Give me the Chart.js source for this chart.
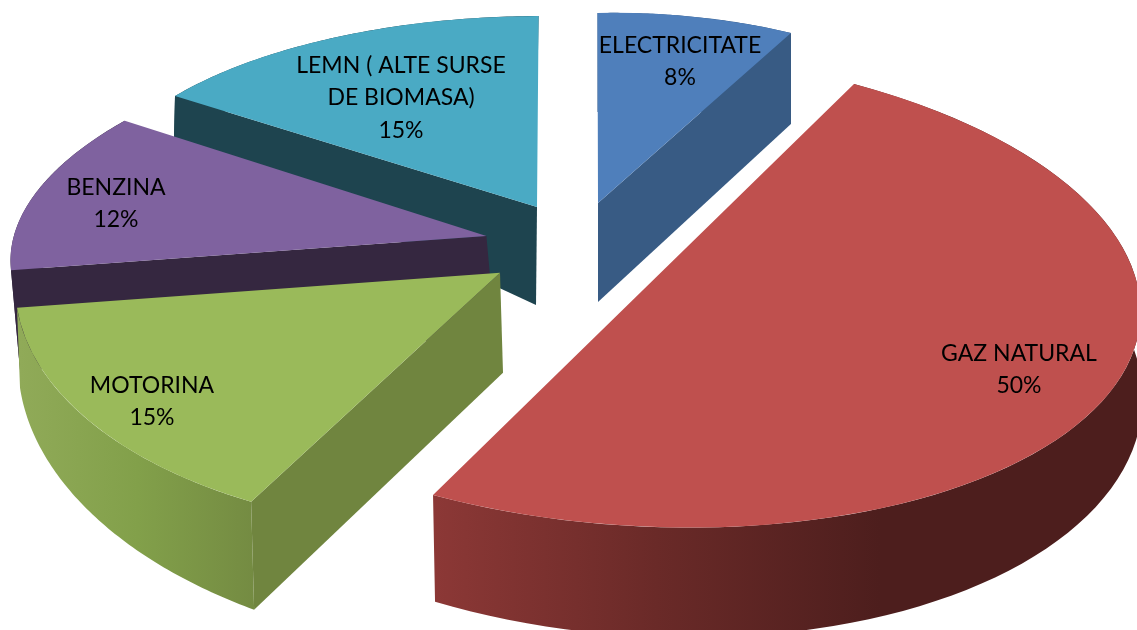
<!DOCTYPE html>
<html>
<head>
<meta charset="utf-8">
<title>Consum energie</title>
<script src="https://cdn.jsdelivr.net/npm/chart.js@4"></script>
<style>
  html, body { margin: 0; padding: 0; background: #fff; overflow: hidden; }
  #pie { display: block; }
</style>
</head>
<body>
<canvas id="pie" width="1137" height="630"></canvas>
<script>
const categories = ['ELECTRICITATE', 'GAZ NATURAL', 'MOTORINA', 'BENZINA', 'LEMN ( ALTE SURSE\nDE BIOMASA)'];
const shares = [8, 50, 15, 12, 15];

const topColors = ['#4f7fbb', '#bf504e', '#9aba5a', '#7f629f', '#4aaac4'];
const wallColors = ['#385b84', '#4d1e1d', '#70853f', '#352740', '#1e444f'];

// the pie is drawn exploded and tilted: each slice gets its own flat projection
// x,y = tip, a = where "3 o'clock" lands, b = where "12 o'clock" lands (relative to tip)
// d = wall height at tip, da/db = how the height changes toward a/b, dx = bottom shift
const sliceViews = [
  { x: 598,   y: 203,   ax: 401.4, ay: -7.3, bx: -0.5,  by: -190,   d: 99,  da: -16.6, db: 0,     dx: 0 },
  { x: 643.5, y: 289.5, ax: 496,   ay: 6.5,  bx: -32.5, by: -238,   d: 85,  da: 0,     db: -25,   dx: 2 },
  { x: 500,   y: 272.7, ax: 484.6, ay: -2.6, bx: 17.6,  by: -260,   d: 100, da: 22.9,  db: -21.7, dx: 3 },
  { x: 486.4, y: 236,   ax: 474.4, ay: -8.2, bx: 37.7,  by: -207.5, d: 100, da: 10,    db: -79.7, dx: 9 },
  { x: 537,   y: 207,   ax: 448.6, ay: -1.6, bx: 1.6,   by: -191,   d: 98,  da: 42.9,  db: -38,   dx: -1 }
];
const drawOrder = [4, 0, 3, 2, 1];

// outer wall shading, left to right
const wallShades = {
  1: { from: 433, to: 880, stops: ['#8c3836', '#6a2a28', '#4d1e1d'] },
  2: { from: 20, to: 255, stops: ['#90aa58', '#82a04a', '#748b42'] }
};

const labelSpots = [[680, 52.7], [1019, 361], [152, 392.7], [116, 195], [401, 72.7]];
const labelFont = '23px Lato';
const lineGap = 32.4;

function project(v, ux, uy, bottom) {
  const s = ux, c = -uy;
  const px = v.x + v.ax * s + v.bx * c;
  const py = v.y + v.ay * s + v.by * c;
  if (!bottom) return [px, py];
  return [px + v.dx, py + v.d + v.da * s + v.db * c];
}

function wallFill(ctx, i) {
  const shade = wallShades[i];
  if (!shade) return wallColors[i];
  const g = ctx.createLinearGradient(shade.from, 0, shade.to, 0);
  shade.stops.forEach((col, k) => g.addColorStop(k / (shade.stops.length - 1), col));
  return g;
}

function fillPoly(ctx, pts, fill) {
  ctx.beginPath();
  pts.forEach((p, k) => (k ? ctx.lineTo(p[0], p[1]) : ctx.moveTo(p[0], p[1])));
  ctx.closePath();
  ctx.fillStyle = fill;
  ctx.fill();
}

// a cut face shows only when the slice top lies above its edge on screen
function facesViewer(tip, end, inside) {
  const run = end[0] - tip[0];
  if (Math.abs(run) < 5) return false;
  const edgeY = tip[1] + (end[1] - tip[1]) * (inside[0] - tip[0]) / run;
  return inside[1] < edgeY;
}

function drawWalls(ctx, arc, i) {
  const v = sliceViews[i];
  const steps = 80;
  const topEdge = [], lowEdge = [];
  for (let k = 0; k <= steps; k++) {
    const ang = arc.startAngle + (arc.endAngle - arc.startAngle) * k / steps;
    topEdge.push(project(v, Math.cos(ang), Math.sin(ang), false));
    lowEdge.push(project(v, Math.cos(ang), Math.sin(ang), true));
  }
  const tip = project(v, 0, 0, false), tipLow = project(v, 0, 0, true);
  const inside = topEdge[steps / 2];

  fillPoly(ctx, topEdge.concat(lowEdge.slice().reverse()), wallFill(ctx, i));
  [0, steps].forEach(k => {
    if (facesViewer(tip, topEdge[k], inside)) {
      fillPoly(ctx, [tip, topEdge[k], lowEdge[k], tipLow], wallColors[i]);
    }
  });
}

function drawTop(ctx, arc, i) {
  const v = sliceViews[i];
  const R = arc.outerRadius;
  ctx.save();
  // arc coordinates -> page, the library still draws the slice itself
  const A = v.ax / R, B = v.ay / R, C = -v.bx / R, D = -v.by / R;
  ctx.transform(A, B, C, D, v.x - A * arc.x - C * arc.y, v.y - B * arc.x - D * arc.y);
  arc.draw(ctx);
  ctx.restore();
}

const tiltedPie = {
  id: 'tiltedPie',
  beforeDatasetsDraw(chart) {
    const ctx = chart.ctx;
    const arcs = chart.getDatasetMeta(0).data;
    drawOrder.forEach(i => {
      drawWalls(ctx, arcs[i], i);
      drawTop(ctx, arcs[i], i);
    });
    return false;
  },
  afterDraw(chart) {
    const ctx = chart.ctx;
    ctx.save();
    ctx.font = labelFont;
    ctx.fillStyle = '#000';
    ctx.textAlign = 'center';
    ctx.textBaseline = 'alphabetic';
    categories.forEach((name, i) => {
      const lines = name.split('\n').concat(shares[i] + '%');
      lines.forEach((line, k) => ctx.fillText(line, labelSpots[i][0], labelSpots[i][1] + k * lineGap));
    });
    ctx.restore();
  }
};

new Chart(document.getElementById('pie').getContext('2d'), {
  type: 'pie',
  data: {
    labels: categories,
    datasets: [{ data: shares, backgroundColor: topColors, borderWidth: 0 }]
  },
  options: {
    responsive: false,
    animation: false,
    events: [],
    plugins: { legend: { display: false }, tooltip: { enabled: false } }
  },
  plugins: [tiltedPie]
});
</script>
</body>
</html>
